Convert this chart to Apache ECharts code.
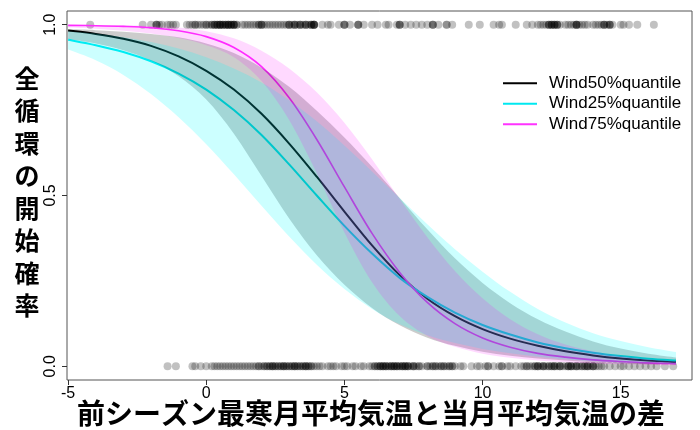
<!DOCTYPE html>
<html>
<head>
<meta charset="utf-8">
<script src="https://cdn.jsdelivr.net/npm/echarts@6/dist/echarts.min.js"></script>
<style>
  html, body { margin: 0; padding: 0; background: #fff; }
  #chart { width: 700px; height: 430px; }
</style>
</head>
<body>
<div id="chart"></div>
<script>
// Temperature difference grid (x) shared by the fitted curves and bands
const xGrid = [-5, -4, -3, -2, -1, 0, 1, 2, 3, 4, 5, 6, 7, 8, 9, 10, 11, 12, 13, 14, 15, 16, 17];

// Fitted probability curves
const wind50 = [0.983, 0.973, 0.959, 0.938, 0.907, 0.865, 0.810, 0.739, 0.652, 0.555, 0.453, 0.354, 0.267, 0.198, 0.147, 0.109, 0.081, 0.060, 0.044, 0.032, 0.023, 0.017, 0.013];
const wind25 = [0.956, 0.940, 0.920, 0.893, 0.857, 0.810, 0.750, 0.677, 0.591, 0.500, 0.411, 0.330, 0.259, 0.203, 0.157, 0.121, 0.093, 0.070, 0.053, 0.040, 0.030, 0.022, 0.017];
const wind75 = [0.998, 0.997, 0.995, 0.991, 0.982, 0.965, 0.933, 0.877, 0.786, 0.664, 0.525, 0.389, 0.275, 0.187, 0.125, 0.083, 0.056, 0.038, 0.027, 0.019, 0.014, 0.010, 0.008];

// Confidence bands (lower / upper)
const wind50Lo = [0.958, 0.945, 0.925, 0.895, 0.849, 0.781, 0.681, 0.557, 0.433, 0.325, 0.239, 0.171, 0.120, 0.084, 0.060, 0.043, 0.031, 0.023, 0.017, 0.012, 0.009, 0.006, 0.005];
const wind50Hi = [0.987, 0.984, 0.979, 0.973, 0.963, 0.945, 0.917, 0.874, 0.818, 0.748, 0.670, 0.584, 0.493, 0.401, 0.316, 0.244, 0.185, 0.138, 0.102, 0.073, 0.052, 0.037, 0.026];
const wind25Lo = [0.927, 0.896, 0.853, 0.797, 0.729, 0.650, 0.562, 0.470, 0.380, 0.297, 0.226, 0.168, 0.123, 0.091, 0.068, 0.051, 0.038, 0.028, 0.021, 0.015, 0.011, 0.008, 0.006];
const wind25Hi = [0.981, 0.974, 0.963, 0.949, 0.930, 0.905, 0.872, 0.831, 0.779, 0.717, 0.646, 0.570, 0.493, 0.416, 0.343, 0.277, 0.218, 0.168, 0.128, 0.097, 0.074, 0.056, 0.042];
const wind75Lo = [0.9915, 0.988, 0.982, 0.974, 0.961, 0.940, 0.905, 0.835, 0.721, 0.565, 0.392, 0.246, 0.147, 0.089, 0.057, 0.037, 0.025, 0.017, 0.012, 0.008, 0.006, 0.004, 0.003];
const wind75Hi = [0.9995, 0.9991, 0.998, 0.996, 0.992, 0.981, 0.960, 0.924, 0.872, 0.802, 0.713, 0.606, 0.490, 0.378, 0.279, 0.199, 0.138, 0.094, 0.064, 0.044, 0.030, 0.021, 0.015];

// Observed events: overturn started (1) / not started (0)
const startedX = [
  -4.2, -2.3,
  -2.0, -1.8, -1.8, -1.8, -1.7, -1.6, -1.4, -1.3, -1.2, -1.1,
  -0.7, -0.6, -0.5, -0.4, -0.4, -0.3, -0.2, -0.1, 0.0, 0.0, 0.1, 0.2, 0.2, 0.3, 0.3, 0.3, 0.4, 0.4, 0.5, 0.5, 0.5,
  0.6, 0.6, 0.7, 0.7, 0.8, 0.8, 0.8, 0.9, 0.9, 1.0, 1.0, 1.0, 1.1, 1.1,
  0.4, 0.5, 0.6, 0.7, 0.8, 0.9, 1.0,
  1.3, 1.4, 1.5, 1.6, 1.7, 1.8, 1.9, 1.9, 2.0, 2.0, 2.0, 2.1, 2.2, 2.3, 2.4, 2.5, 2.6, 2.7, 2.8, 2.9,
  3.0, 3.0, 3.1, 3.2, 3.2, 3.3, 3.4, 3.4, 3.5, 3.6, 3.6, 3.7, 3.8, 3.8, 3.9, 3.9, 3.9, 3.9,
  3.0, 3.2, 3.4, 3.6, 3.8, 3.9,
  4.2, 4.4, 4.5, 4.8, 5.0, 5.0, 5.0, 5.2, 5.5, 5.5, 5.5, 5.7, 6.0, 6.2, 6.5, 6.6,
  6.9, 7.0, 7.0, 7.0, 7.2, 7.4, 7.6, 7.8, 8.0, 8.2, 8.2, 8.2, 8.4, 8.7, 8.7, 8.9,
  9.5, 9.9, 10.4, 10.6, 10.7, 11.2,
  11.6, 11.8, 12.0, 12.1, 12.2, 12.3, 12.4, 12.4, 12.5, 12.5, 12.6, 12.6, 12.7, 12.7, 12.8, 13.0, 13.1, 13.2, 13.3, 13.4, 13.4, 13.4, 13.6, 13.7, 13.8,
  12.4, 12.5, 12.6, 12.7, 13.4, 13.5,
  14.0, 14.1, 14.2, 14.3, 14.4, 14.4, 14.5, 14.6, 14.6, 14.7, 14.4, 14.6, 15.0, 15.1, 15.3, 15.6, 16.2
];
const notStartedX = [
  -1.4, -1.1,
  -0.5, -0.4, -0.2, 0.0, 0.2, 0.3, 0.4,
  0.5, 0.6, 0.7, 0.8, 0.9, 1.0, 1.1, 1.2, 1.3, 1.4, 1.5, 1.6, 1.7, 1.8, 1.9, 1.9,
  2.0, 2.1, 2.2, 2.2, 2.3, 2.4, 2.4, 2.5, 2.6, 2.6, 2.7, 2.8, 2.8, 2.9, 3.0, 3.0, 3.1, 3.2, 3.2, 3.3, 3.4, 3.4, 3.5, 3.6, 3.6, 3.7, 3.8, 3.8, 3.9,
  2.1, 2.3, 2.5, 2.7, 2.9, 3.1, 3.3, 3.5, 3.7, 2.4, 2.8, 3.2, 3.6,
  4.0, 4.2, 4.4, 4.5, 4.7, 4.9, 5.0, 4.1, 4.6,
  5.1, 5.3, 5.4, 5.6, 5.7, 5.9, 6.0, 6.1, 6.2, 6.2, 6.3, 6.3, 6.4, 6.4, 6.5, 6.5, 6.6, 6.6, 6.7, 6.7, 6.8, 6.8, 6.9, 6.9,
  7.0, 7.0, 7.1, 7.1, 7.2, 7.2, 7.3, 7.3, 7.4, 7.5, 7.5, 7.6, 7.7, 7.7,
  6.1, 6.3, 6.5, 6.7, 6.9, 7.1, 7.3, 7.5, 6.4, 6.8, 7.2,
  7.8, 8.0, 8.1, 8.2, 8.3, 8.4, 8.5, 8.6, 8.7, 8.8, 8.9, 9.0, 9.2, 9.3, 9.6, 9.8, 9.9, 10.1, 10.2, 10.4, 10.6, 10.7, 10.9, 11.0, 11.2,
  8.0, 8.3, 8.6, 8.9, 10.2, 10.7, 8.2, 8.5, 8.8,
  11.4, 11.5, 11.6, 11.7, 11.8, 11.9, 12.0, 12.0, 12.1, 12.2, 12.2, 12.3, 12.4, 12.4, 12.5, 12.6, 12.6, 12.7, 12.8, 12.8, 12.9,
  13.0, 13.1, 13.1, 13.2, 13.2, 13.3, 13.4, 13.4, 13.5, 13.6, 13.6, 13.7, 13.8, 13.8, 13.9, 14.0, 14.0, 14.1, 14.2, 14.3, 14.4,
  11.6, 11.9, 12.2, 12.5, 12.8, 13.1, 13.4, 13.7, 14.0, 12.0, 12.6, 13.2, 13.8,
  14.6, 14.8, 15.0, 15.1, 15.3, 15.5, 15.7, 15.9, 16.1, 16.3, 16.6, 16.9
];

// Axis ticks and labels
const xTicks = [-5, 0, 5, 10, 15];
const yTicks = [0, 0.5, 1];
const seriesNames = ['Wind50%quantile', 'Wind25%quantile', 'Wind75%quantile'];
const xTitle = '前シーズン最寒月平均気温と当月平均気温の差';
const yTitle = '全循環の開始確率';

// Cubic Catmull-Rom segments through pixel points (rendering only)
function bezierSegments(pts) {
  let d = '';
  for (let i = 0; i < pts.length - 1; i++) {
    const p0 = pts[i - 1] || pts[i];
    const p1 = pts[i];
    const p2 = pts[i + 1];
    const p3 = pts[i + 2] || p2;
    const c1x = p1[0] + (p2[0] - p0[0]) / 6, c1y = p1[1] + (p2[1] - p0[1]) / 6;
    const c2x = p2[0] - (p3[0] - p1[0]) / 6, c2y = p2[1] - (p3[1] - p1[1]) / 6;
    d += ' C' + c1x.toFixed(2) + ',' + c1y.toFixed(2) + ' ' + c2x.toFixed(2) + ',' + c2y.toFixed(2) + ' ' + p2[0].toFixed(2) + ',' + p2[1].toFixed(2);
  }
  return d;
}

function toPixels(api, ys) {
  return xGrid.map((x, i) => api.coord([x, ys[i]]));
}

function bandSeries(id, lo, hi, color) {
  return {
    type: 'custom', name: id, silent: true, z: 3,
    data: [[xGrid[0], lo[0]]],
    renderItem: (params, api) => {
      const up = toPixels(api, hi);
      const dn = toPixels(api, lo).reverse();
      const d = 'M' + up[0][0] + ',' + up[0][1] + bezierSegments(up) +
        ' L' + dn[0][0] + ',' + dn[0][1] + bezierSegments(dn) + ' Z';
      return { type: 'path', shape: { pathData: d }, style: { fill: color, stroke: null } };
    }
  };
}

function curveSeries(name, ys, color, width) {
  return {
    type: 'custom', name: name, z: 2, color: color,
    itemStyle: { color: color },
    data: [[xGrid[0], ys[0]]],
    renderItem: (params, api) => {
      const p = toPixels(api, ys);
      const d = 'M' + p[0][0] + ',' + p[0][1] + bezierSegments(p);
      return { type: 'path', shape: { pathData: d }, style: { fill: null, stroke: color, lineWidth: width } };
    }
  };
}

const tickFont = '"Liberation Sans Narrow", "Liberation Sans", Arial, sans-serif';
const cjkFont = '"Noto Sans CJK JP", "Noto Sans CJK SC", sans-serif';

const chart = echarts.init(document.getElementById('chart'), null, { renderer: 'canvas' });
chart.setOption({
  animation: false,
  backgroundColor: '#ffffff',
  grid: { left: 67, top: 11, right: 8, bottom: 50, show: true, borderColor: '#555', borderWidth: 1, backgroundColor: 'transparent' },
  legend: {
    data: seriesNames,
    orient: 'vertical',
    left: 498, top: 68,
    icon: 'rect', itemWidth: 34, itemHeight: 2, itemGap: 0,
    textStyle: { fontFamily: '"Liberation Sans", Arial, sans-serif', fontSize: 17, color: '#000', lineHeight: 20.5, padding: [0, 0, 0, 7] }
  },
  xAxis: {
    type: 'value', min: -5.04, max: 17.58,
    axisLine: { show: false, onZero: false },
    splitLine: { show: false },
    axisTick: { show: true, length: 5, lineStyle: { color: '#333' }, customValues: xTicks },
    axisLabel: { customValues: xTicks, margin: 6, fontFamily: tickFont, fontSize: 16, color: '#000' }
  },
  yAxis: {
    type: 'value', min: -0.04, max: 1.04,
    axisLine: { show: false, onZero: false },
    splitLine: { show: false },
    axisTick: { show: true, length: 5, lineStyle: { color: '#333' }, customValues: yTicks },
    axisLabel: { customValues: yTicks, rotate: 90, margin: 8, fontFamily: tickFont, fontSize: 16, color: '#000',
      formatter: v => v.toFixed(1) }
  },
  graphic: [
    {
      type: 'text',
      style: { text: yTitle.split('').join('\n'), font: 'bold 25px ' + cjkFont, lineHeight: 32.5, fill: '#000', align: 'center', verticalAlign: 'middle', x: 27, y: 192 }
    },
    {
      type: 'text',
      style: { text: xTitle, font: 'bold 28px ' + cjkFont, fill: '#000', align: 'center', verticalAlign: 'middle', x: 371, y: 413 }
    }
  ],
  series: [
    {
      type: 'scatter', name: 'started', data: startedX.map(x => [x, 1]), symbolSize: 8, z: 1,
      itemStyle: { color: 'rgba(0,0,0,0.3)' }, silent: true
    },
    {
      type: 'scatter', name: 'notStarted', data: notStartedX.map(x => [x, 0]), symbolSize: 8, z: 1,
      itemStyle: { color: 'rgba(0,0,0,0.3)' }, silent: true
    },
    curveSeries(seriesNames[0], wind50, '#000000', 2),
    curveSeries(seriesNames[1], wind25, '#00e8f0', 2),
    curveSeries(seriesNames[2], wind75, '#ff33ff', 1.6),
    bandSeries('b50', wind50Lo, wind50Hi, 'rgba(0,0,0,0.2)'),
    bandSeries('b25', wind25Lo, wind25Hi, 'rgba(0,255,255,0.2)'),
    bandSeries('b75', wind75Lo, wind75Hi, 'rgba(255,0,255,0.15)')
  ]
});
</script>
</body>
</html>
